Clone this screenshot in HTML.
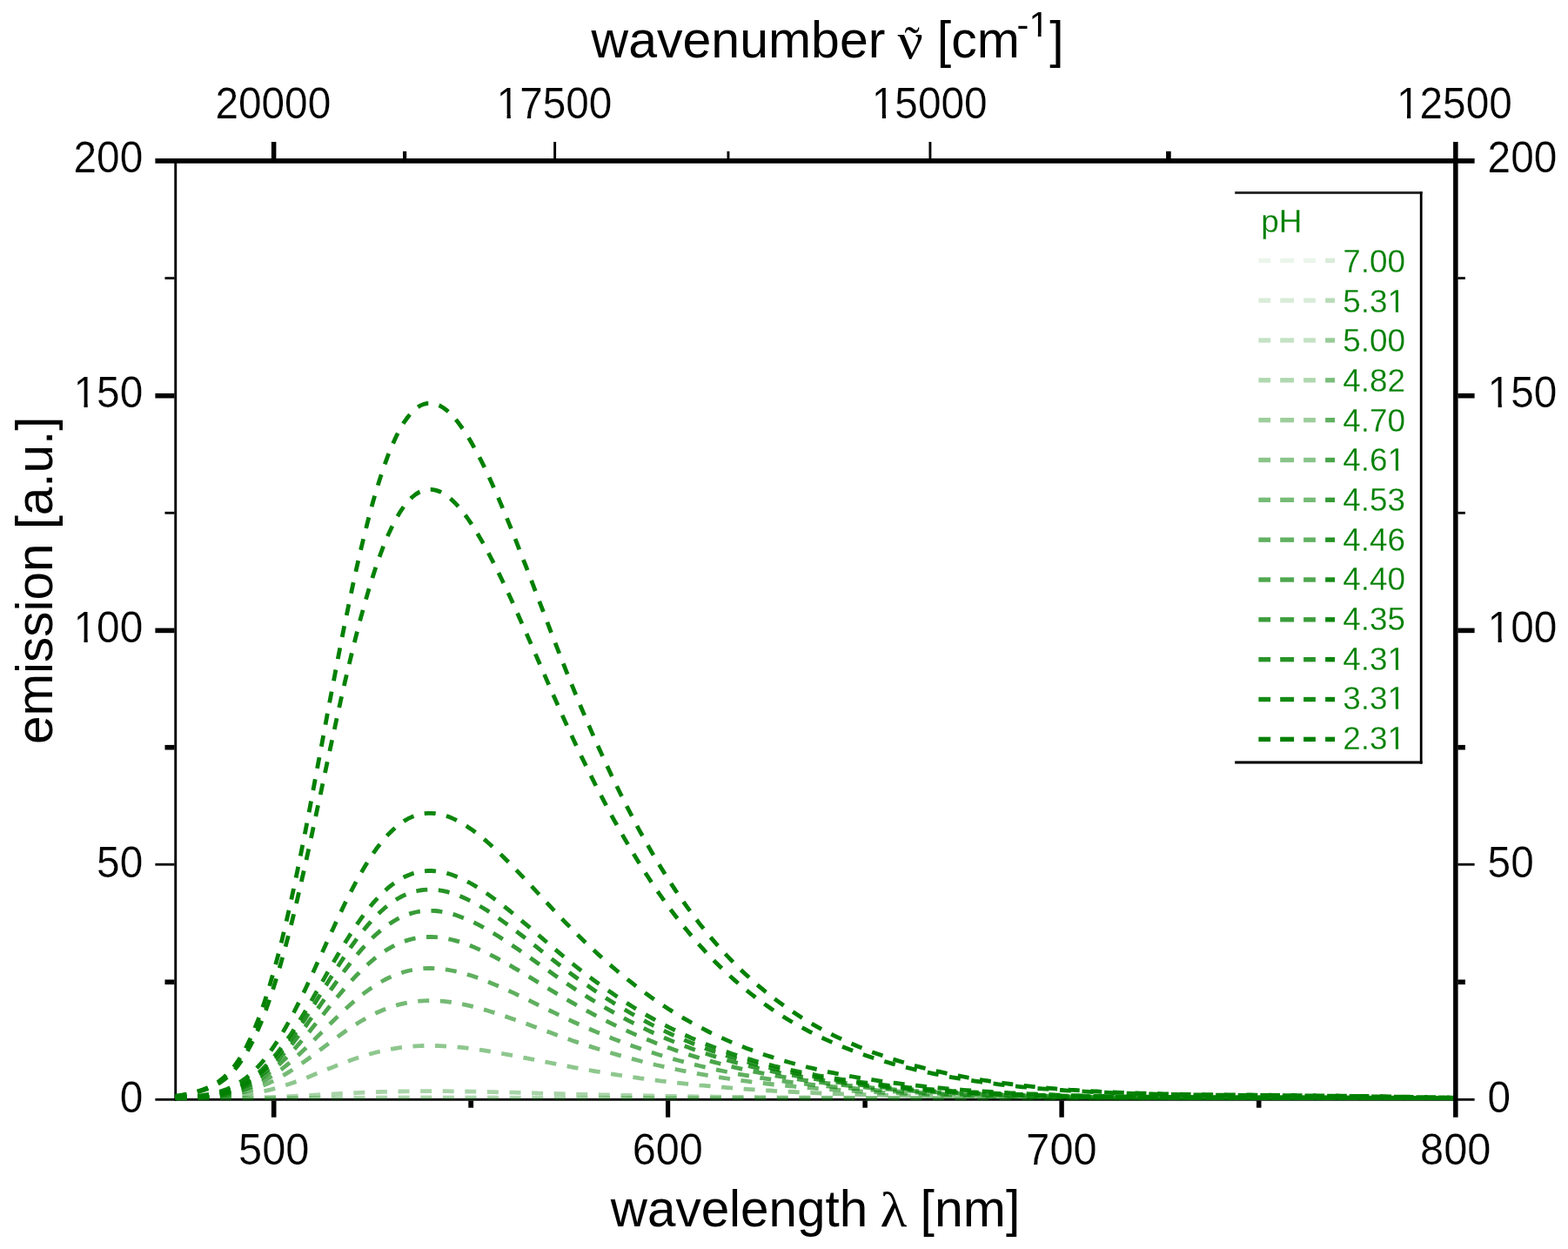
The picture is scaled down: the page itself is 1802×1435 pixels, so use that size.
<!DOCTYPE html>
<html lang="en"><head><meta charset="utf-8"><title>Emission spectra at different pH values</title>
<style>html,body{margin:0;padding:0;background:#fff}body{width:1802px;height:1435px;overflow:hidden}svg{display:block}text{font-family:"Liberation Sans",sans-serif;fill:#000}.s{font-family:"Liberation Serif",serif}.g text{fill:#008000}.c path{fill:none;stroke:#008000;stroke-linecap:butt;stroke-linejoin:round}.m{fill:#fff}</style></head><body>
<svg width="1802" height="1435" viewBox="0 0 1802 1435" style="filter:blur(0.6px)">
<rect width="1802" height="1435" fill="#fff"/>
<g id="axes">
<rect x="200.3" y="184" width="2.9" height="1080.7"/>
<rect x="178.4" y="1261.9" width="1516.2" height="2.8"/>
<rect x="189.5" y="318.2" width="11" height="2.8"/>
<rect x="1675.4" y="318.2" width="8.5" height="2.8"/>
<rect x="178.4" y="451.9" width="22.1" height="5.6"/>
<rect x="1675.4" y="451.9" width="19.2" height="5.6"/>
<rect x="189.5" y="587.9" width="11" height="2.8"/>
<rect x="1675.4" y="587.9" width="8.5" height="2.8"/>
<rect x="178.4" y="721.6" width="22.1" height="5.6"/>
<rect x="1675.4" y="721.6" width="19.2" height="5.6"/>
<rect x="189.5" y="855.9" width="11" height="5.6"/>
<rect x="1675.4" y="855.9" width="8.5" height="5.6"/>
<rect x="178.4" y="991.8" width="22.1" height="2.8"/>
<rect x="1675.4" y="991.8" width="19.2" height="2.8"/>
<rect x="189.5" y="1125.5" width="11" height="5.6"/>
<rect x="1675.4" y="1125.5" width="8.5" height="5.6"/>
<rect x="311.9" y="1264.5" width="5.6" height="19.2"/>
<rect x="538.3" y="1264.5" width="5.8" height="8.2"/>
<rect x="765" y="1264.5" width="5.2" height="19.2"/>
<rect x="991.4" y="1264.5" width="5.5" height="8.2"/>
<rect x="1217.4" y="1264.5" width="5.4" height="19.2"/>
<rect x="1444" y="1264.5" width="5.5" height="8.2"/>
<rect x="311.9" y="163" width="5.5" height="19.2"/>
<rect x="463" y="173.8" width="4.2" height="8.4"/>
<rect x="636.2" y="163" width="2.9" height="19.2"/>
<rect x="835.5" y="173.8" width="2.9" height="8.4"/>
<rect x="1067.5" y="163" width="2.9" height="19.2"/>
<rect x="1340.1" y="173.8" width="5.6" height="8.4"/>
</g>
<g class="c" id="curves" stroke-width="4.8" stroke-dasharray="13 12.6">
<path d="M201.7 1261.9l4.5 0l4.5 0l4.6 0l4.5 0l4.5 0l4.5 0l4.6 0l4.5 0l4.5 0l4.5 0l4.6 0l4.5 0l4.5 0l4.6 0l4.5 0l4.5 0l4.5 0l4.6 0l4.5 0l4.5 0l4.5 0l4.6 0l4.5 0l4.5 0l4.5 0l4.6 0l4.5 0l4.5 0l4.6 -0.1l4.5 0l4.5 0l4.5 0l4.6 0l4.5 0l4.5 0l4.5 0l4.6 0l4.5 0l4.5 0l4.6 0l4.5 0l4.5 0l4.5 0l4.6 0l4.5 0l4.5 0l4.5 0l4.6 0l4.5 0l4.5 0l4.5 0l4.6 -0.1l4.5 0l4.5 0l4.6 0l4.5 0l4.5 0l4.5 0l4.6 0l4.5 0l4.5 0l4.5 0l4.6 0l4.5 0l4.5 0l4.5 0l4.6 0l4.5 0l4.5 0l4.6 0l4.5 0l4.5 0l4.5 0l4.6 0l4.5 0l4.5 0l4.5 0l4.6 0l4.5 0l4.5 0.1l4.5 0l4.6 0l4.5 0l4.5 0l4.6 0l4.5 0l4.5 0l4.5 0l4.6 0l4.5 0l4.5 0l4.5 0l4.6 0l4.5 0l4.5 0l4.5 0l4.6 0l4.5 0l4.5 0l4.6 0l4.5 0l4.5 0l4.5 0l4.6 0l4.5 0l4.5 0l4.5 0l4.6 0l4.5 0l4.5 0l4.5 0l4.6 0l4.5 0l4.5 0l4.6 0l4.5 0l4.5 0l4.5 0l4.6 0l4.5 0l4.5 0l4.5 0l4.6 0l4.5 0l4.5 0l4.5 0l4.6 0l4.5 0l4.5 0l4.6 0l4.5 0.1l4.5 0l4.5 0l4.6 0l4.5 0l4.5 0l4.5 0l4.6 0l4.5 0l4.5 0l4.5 0l4.6 0l4.5 0l4.5 0l4.6 0l4.5 0l4.5 0l4.5 0l4.6 0l4.5 0l4.5 0l4.5 0l4.6 0l4.5 0l4.5 0l4.5 0l4.6 0l4.5 0l4.5 0l4.6 0l4.5 0l4.5 0l4.5 0l4.6 0l4.5 0l4.5 0l4.5 0l4.6 0l4.5 0l4.5 0l4.5 0l4.6 0l4.5 0l4.5 0l4.6 0l4.5 0l4.5 0l4.5 0l4.6 0l4.5 0l4.5 0l4.5 0l4.6 0l4.5 0l4.5 0l4.5 0l4.6 0l4.5 0l4.5 0l4.6 0l4.5 0l4.5 0l4.5 0l4.6 0l4.5 0l4.5 0l4.5 0l4.6 0l4.5 0l4.5 0l4.5 0l4.6 0l4.5 0l4.5 0l4.6 0l4.5 0l4.5 0l4.5 0l4.6 0l4.5 0l4.5 0l4.5 0l4.6 0l4.5 0l4.5 0l4.5 0l4.6 0l4.5 0l4.5 0l4.6 0l4.5 0l4.5 0l4.5 0l4.6 0l4.5 0l4.5 0l4.5 0l4.6 0l4.5 0l4.5 0l4.6 0l4.5 0l4.5 0l4.5 0l4.6 0l4.5 0l4.5 0l4.5 0l4.6 0l4.5 0l4.5 0l4.5 0l4.6 0l4.5 0l4.5 0l4.6 0l4.5 0l4.5 0l4.5 0l4.6 0l4.5 0l4.5 0l4.5 0l4.6 0l4.5 0l4.5 0l4.5 0l4.6 0l4.5 0l4.5 0l4.6 0l4.5 0l4.5 0l4.5 0l4.6 0l4.5 0l4.5 0l4.5 0l4.6 0l4.5 0l4.5 0l4.5 0l4.6 0l4.5 0l4.5 0l4.6 0l4.5 0l4.5 0l4.5 0l4.6 0l4.5 0l4.5 0l4.5 0l4.6 0l4.5 0l4.5 0l4.5 0l4.6 0l4.5 0l4.5 0l4.6 0l4.5 0l4.5 0l4.5 0l4.6 0l4.5 0l4.5 0l4.5 0l4.6 0l4.5 0l4.5 0l4.5 0l4.6 0l4.5 0l4.5 0l4.6 0l4.5 0l4.5 0l4.5 0l4.6 0l4.5 0l4.5 0l4.5 0l4.6 0l4.5 0l4.5 0l4.5 0l4.6 0l4.5 0l4.5 0l4.6 0l4.5 0l4.5 0l4.5 0l4.6 0" stroke-opacity="0.120"/>
<path d="M201.7 1261.9l4.5 0l4.5 0l4.6 0l4.5 0l4.5 0l4.5 0l4.6 0l4.5 0l4.5 0l4.5 0l4.6 0l4.5 0l4.5 0l4.6 0l4.5 0l4.5 -0.1l4.5 0l4.6 0l4.5 0l4.5 0l4.5 0l4.6 0l4.5 0l4.5 -0.1l4.5 0l4.6 0l4.5 0l4.5 0l4.6 -0.1l4.5 0l4.5 0l4.5 -0.1l4.6 0l4.5 0l4.5 0l4.5 -0.1l4.6 0l4.5 0l4.5 -0.1l4.6 0l4.5 0l4.5 0l4.5 -0.1l4.6 0l4.5 0l4.5 0l4.5 -0.1l4.6 0l4.5 0l4.5 0l4.5 -0.1l4.6 0l4.5 0l4.5 0l4.6 0l4.5 0l4.5 0l4.5 0l4.6 -0.1l4.5 0l4.5 0l4.5 0l4.6 0l4.5 0l4.5 0l4.5 0l4.6 0l4.5 0l4.5 0l4.6 0l4.5 0l4.5 0.1l4.5 0l4.6 0l4.5 0l4.5 0l4.5 0l4.6 0l4.5 0l4.5 0l4.5 0l4.6 0.1l4.5 0l4.5 0l4.6 0l4.5 0l4.5 0l4.5 0l4.6 0.1l4.5 0l4.5 0l4.5 0l4.6 0l4.5 0l4.5 0l4.5 0.1l4.6 0l4.5 0l4.5 0l4.6 0l4.5 0l4.5 0l4.5 0l4.6 0.1l4.5 0l4.5 0l4.5 0l4.6 0l4.5 0l4.5 0l4.5 0l4.6 0.1l4.5 0l4.5 0l4.6 0l4.5 0l4.5 0l4.5 0l4.6 0l4.5 0l4.5 0.1l4.5 0l4.6 0l4.5 0l4.5 0l4.5 0l4.6 0l4.5 0l4.5 0l4.6 0l4.5 0l4.5 0l4.5 0.1l4.6 0l4.5 0l4.5 0l4.5 0l4.6 0l4.5 0l4.5 0l4.5 0l4.6 0l4.5 0l4.5 0l4.6 0l4.5 0l4.5 0l4.5 0l4.6 0l4.5 0l4.5 0.1l4.5 0l4.6 0l4.5 0l4.5 0l4.5 0l4.6 0l4.5 0l4.5 0l4.6 0l4.5 0l4.5 0l4.5 0l4.6 0l4.5 0l4.5 0l4.5 0l4.6 0l4.5 0l4.5 0l4.5 0l4.6 0l4.5 0l4.5 0l4.6 0l4.5 0l4.5 0l4.5 0l4.6 0l4.5 0l4.5 0l4.5 0l4.6 0l4.5 0l4.5 0l4.5 0l4.6 0l4.5 0.1l4.5 0l4.6 0l4.5 0l4.5 0l4.5 0l4.6 0l4.5 0l4.5 0l4.5 0l4.6 0l4.5 0l4.5 0l4.5 0l4.6 0l4.5 0l4.5 0l4.6 0l4.5 0l4.5 0l4.5 0l4.6 0l4.5 0l4.5 0l4.5 0l4.6 0l4.5 0l4.5 0l4.5 0l4.6 0l4.5 0l4.5 0l4.6 0l4.5 0l4.5 0l4.5 0l4.6 0l4.5 0l4.5 0l4.5 0l4.6 0l4.5 0l4.5 0l4.6 0l4.5 0l4.5 0l4.5 0l4.6 0l4.5 0l4.5 0l4.5 0l4.6 0l4.5 0l4.5 0l4.5 0l4.6 0l4.5 0l4.5 0l4.6 0l4.5 0l4.5 0l4.5 0l4.6 0l4.5 0l4.5 0l4.5 0l4.6 0l4.5 0l4.5 0l4.5 0l4.6 0l4.5 0l4.5 0l4.6 0l4.5 0l4.5 0l4.5 0l4.6 0l4.5 0l4.5 0l4.5 0l4.6 0l4.5 0l4.5 0l4.5 0l4.6 0l4.5 0l4.5 0l4.6 0l4.5 0l4.5 0l4.5 0l4.6 0l4.5 0l4.5 0l4.5 0l4.6 0l4.5 0l4.5 0l4.5 0l4.6 0l4.5 0l4.5 0l4.6 0l4.5 0l4.5 0l4.5 0l4.6 0l4.5 0l4.5 0l4.5 0l4.6 0l4.5 0l4.5 0l4.5 0l4.6 0l4.5 0l4.5 0l4.6 0l4.5 0l4.5 0l4.5 0l4.6 0l4.5 0l4.5 0l4.5 0l4.6 0l4.5 0l4.5 0l4.5 0l4.6 0l4.5 0l4.5 0l4.6 0l4.5 0l4.5 0l4.5 0l4.6 0" stroke-opacity="0.235"/>
<path d="M201.7 1261.9l4.5 0l4.5 0l4.6 0l4.5 -0.1l4.5 0l4.5 0l4.6 0l4.5 0l4.5 0l4.5 -0.1l4.6 0l4.5 0l4.5 -0.1l4.6 0l4.5 -0.1l4.5 0l4.5 -0.1l4.6 -0.1l4.5 -0.1l4.5 -0.1l4.5 -0.1l4.6 -0.2l4.5 -0.1l4.5 -0.1l4.5 -0.2l4.6 -0.2l4.5 -0.2l4.5 -0.2l4.6 -0.2l4.5 -0.2l4.5 -0.2l4.5 -0.2l4.6 -0.3l4.5 -0.2l4.5 -0.3l4.5 -0.2l4.6 -0.3l4.5 -0.2l4.5 -0.3l4.6 -0.2l4.5 -0.3l4.5 -0.2l4.5 -0.2l4.6 -0.3l4.5 -0.2l4.5 -0.2l4.5 -0.2l4.6 -0.2l4.5 -0.2l4.5 -0.2l4.5 -0.1l4.6 -0.2l4.5 -0.1l4.5 -0.1l4.6 -0.1l4.5 -0.1l4.5 -0.1l4.5 -0.1l4.6 -0.1l4.5 0l4.5 -0.1l4.5 0l4.6 0l4.5 0l4.5 0l4.5 0l4.6 0l4.5 0l4.5 0l4.6 0.1l4.5 0l4.5 0.1l4.5 0.1l4.6 0l4.5 0.1l4.5 0.1l4.5 0.1l4.6 0.1l4.5 0.1l4.5 0.1l4.5 0.1l4.6 0.1l4.5 0.1l4.5 0.1l4.6 0.1l4.5 0.1l4.5 0.2l4.5 0.1l4.6 0.1l4.5 0.1l4.5 0.1l4.5 0.2l4.6 0.1l4.5 0.1l4.5 0.1l4.5 0.2l4.6 0.1l4.5 0.1l4.5 0.1l4.6 0.1l4.5 0.1l4.5 0.2l4.5 0.1l4.6 0.1l4.5 0.1l4.5 0.1l4.5 0.1l4.6 0.1l4.5 0.1l4.5 0.1l4.5 0.1l4.6 0.1l4.5 0.1l4.5 0.1l4.6 0.1l4.5 0.1l4.5 0.1l4.5 0l4.6 0.1l4.5 0.1l4.5 0.1l4.5 0.1l4.6 0l4.5 0.1l4.5 0.1l4.5 0.1l4.6 0l4.5 0.1l4.5 0.1l4.6 0l4.5 0.1l4.5 0.1l4.5 0l4.6 0.1l4.5 0l4.5 0.1l4.5 0.1l4.6 0l4.5 0.1l4.5 0l4.5 0.1l4.6 0l4.5 0.1l4.5 0l4.6 0l4.5 0.1l4.5 0l4.5 0.1l4.6 0l4.5 0.1l4.5 0l4.5 0l4.6 0.1l4.5 0l4.5 0l4.5 0.1l4.6 0l4.5 0l4.5 0.1l4.6 0l4.5 0l4.5 0l4.5 0.1l4.6 0l4.5 0l4.5 0l4.5 0.1l4.6 0l4.5 0l4.5 0l4.5 0l4.6 0.1l4.5 0l4.5 0l4.6 0l4.5 0l4.5 0.1l4.5 0l4.6 0l4.5 0l4.5 0l4.5 0l4.6 0.1l4.5 0l4.5 0l4.5 0l4.6 0l4.5 0l4.5 0l4.6 0l4.5 0.1l4.5 0l4.5 0l4.6 0l4.5 0l4.5 0l4.5 0l4.6 0l4.5 0l4.5 0.1l4.5 0l4.6 0l4.5 0l4.5 0l4.6 0l4.5 0l4.5 0l4.5 0l4.6 0l4.5 0l4.5 0l4.5 0l4.6 0l4.5 0.1l4.5 0l4.5 0l4.6 0l4.5 0l4.5 0l4.6 0l4.5 0l4.5 0l4.5 0l4.6 0l4.5 0l4.5 0l4.5 0l4.6 0l4.5 0l4.5 0l4.6 0l4.5 0l4.5 0l4.5 0l4.6 0l4.5 0l4.5 0l4.5 0l4.6 0l4.5 0l4.5 0l4.5 0l4.6 0l4.5 0l4.5 0l4.6 0.1l4.5 0l4.5 0l4.5 0l4.6 0l4.5 0l4.5 0l4.5 0l4.6 0l4.5 0l4.5 0l4.5 0l4.6 0l4.5 0l4.5 0l4.6 0l4.5 0l4.5 0l4.5 0l4.6 0l4.5 0l4.5 0l4.5 0l4.6 0l4.5 0l4.5 0l4.5 0l4.6 0l4.5 0l4.5 0l4.6 0l4.5 0l4.5 0l4.5 0l4.6 0l4.5 0l4.5 0l4.5 0l4.6 0l4.5 0l4.5 0l4.5 0l4.6 0l4.5 0l4.5 0l4.6 0l4.5 0l4.5 0l4.5 0l4.6 0l4.5 0l4.5 0l4.5 0l4.6 0l4.5 0l4.5 0l4.5 0l4.6 0l4.5 0l4.5 0l4.6 0l4.5 0l4.5 0l4.5 0l4.6 0l4.5 0l4.5 0l4.5 0l4.6 0l4.5 0l4.5 0l4.5 0l4.6 0l4.5 0l4.5 0l4.6 0l4.5 0l4.5 0l4.5 0l4.6 0" stroke-opacity="0.343"/>
<path d="M201.7 1261.8l4.5 0l4.5 -0.1l4.6 -0.1l4.5 -0.1l4.5 0l4.5 -0.1l4.6 -0.2l4.5 -0.1l4.5 -0.2l4.5 -0.1l4.6 -0.3l4.5 -0.2l4.5 -0.3l4.6 -0.4l4.5 -0.4l4.5 -0.5l4.5 -0.6l4.6 -0.6l4.5 -0.7l4.5 -0.8l4.5 -0.8l4.6 -1l4.5 -1l4.5 -1.1l4.5 -1.2l4.6 -1.3l4.5 -1.4l4.5 -1.4l4.6 -1.5l4.5 -1.6l4.5 -1.6l4.5 -1.7l4.6 -1.7l4.5 -1.8l4.5 -1.8l4.5 -1.9l4.6 -1.8l4.5 -1.9l4.5 -1.8l4.6 -1.8l4.5 -1.8l4.5 -1.8l4.5 -1.7l4.6 -1.7l4.5 -1.6l4.5 -1.6l4.5 -1.5l4.6 -1.4l4.5 -1.3l4.5 -1.3l4.5 -1.2l4.6 -1.1l4.5 -1l4.5 -1l4.6 -0.8l4.5 -0.8l4.5 -0.6l4.5 -0.6l4.6 -0.5l4.5 -0.4l4.5 -0.3l4.5 -0.3l4.6 -0.1l4.5 -0.1l4.5 0l4.5 0.1l4.6 0.1l4.5 0.2l4.5 0.3l4.6 0.3l4.5 0.4l4.5 0.4l4.5 0.5l4.6 0.5l4.5 0.6l4.5 0.6l4.5 0.6l4.6 0.7l4.5 0.7l4.5 0.7l4.5 0.8l4.6 0.8l4.5 0.8l4.5 0.8l4.6 0.9l4.5 0.8l4.5 0.9l4.5 0.9l4.6 0.9l4.5 0.9l4.5 0.8l4.5 0.9l4.6 0.9l4.5 0.9l4.5 0.9l4.5 0.9l4.6 0.9l4.5 0.9l4.5 0.9l4.6 0.8l4.5 0.9l4.5 0.8l4.5 0.8l4.6 0.9l4.5 0.7l4.5 0.8l4.5 0.8l4.6 0.8l4.5 0.7l4.5 0.7l4.5 0.8l4.6 0.7l4.5 0.7l4.5 0.7l4.6 0.6l4.5 0.7l4.5 0.6l4.5 0.7l4.6 0.6l4.5 0.6l4.5 0.6l4.5 0.6l4.6 0.6l4.5 0.5l4.5 0.6l4.5 0.5l4.6 0.5l4.5 0.5l4.5 0.5l4.6 0.5l4.5 0.5l4.5 0.4l4.5 0.5l4.6 0.4l4.5 0.4l4.5 0.4l4.5 0.4l4.6 0.4l4.5 0.4l4.5 0.4l4.5 0.3l4.6 0.4l4.5 0.3l4.5 0.4l4.6 0.3l4.5 0.3l4.5 0.3l4.5 0.3l4.6 0.3l4.5 0.3l4.5 0.2l4.5 0.3l4.6 0.3l4.5 0.2l4.5 0.3l4.5 0.2l4.6 0.2l4.5 0.3l4.5 0.2l4.6 0.2l4.5 0.2l4.5 0.2l4.5 0.2l4.6 0.2l4.5 0.2l4.5 0.1l4.5 0.2l4.6 0.2l4.5 0.1l4.5 0.2l4.5 0.1l4.6 0.2l4.5 0.1l4.5 0.2l4.6 0.1l4.5 0.2l4.5 0.1l4.5 0.1l4.6 0.1l4.5 0.2l4.5 0.1l4.5 0.1l4.6 0.1l4.5 0.1l4.5 0.1l4.5 0.1l4.6 0.1l4.5 0.1l4.5 0.1l4.6 0.1l4.5 0.1l4.5 0l4.5 0.1l4.6 0.1l4.5 0.1l4.5 0l4.5 0.1l4.6 0.1l4.5 0.1l4.5 0l4.5 0.1l4.6 0l4.5 0.1l4.5 0.1l4.6 0l4.5 0.1l4.5 0l4.5 0.1l4.6 0l4.5 0.1l4.5 0l4.5 0.1l4.6 0l4.5 0l4.5 0.1l4.5 0l4.6 0.1l4.5 0l4.5 0l4.6 0.1l4.5 0l4.5 0l4.5 0.1l4.6 0l4.5 0l4.5 0l4.5 0.1l4.6 0l4.5 0l4.5 0l4.6 0.1l4.5 0l4.5 0l4.5 0l4.6 0l4.5 0l4.5 0.1l4.5 0l4.6 0l4.5 0l4.5 0l4.5 0l4.6 0l4.5 0.1l4.5 0l4.6 0l4.5 0l4.5 0l4.5 0l4.6 0l4.5 0l4.5 0l4.5 0l4.6 0l4.5 0.1l4.5 0l4.5 0l4.6 0l4.5 0l4.5 0l4.6 0l4.5 0l4.5 0l4.5 0l4.6 0l4.5 0l4.5 0l4.5 0l4.6 0l4.5 0l4.5 0l4.5 0l4.6 0l4.5 0l4.5 0l4.6 0l4.5 0l4.5 0l4.5 0l4.6 0l4.5 0l4.5 0l4.5 0l4.6 0l4.5 0l4.5 0l4.5 0l4.6 0l4.5 0l4.5 0l4.6 0l4.5 0l4.5 0l4.5 0l4.6 0l4.5 0l4.5 0l4.5 0l4.6 0l4.5 0l4.5 0l4.5 0.1l4.6 0l4.5 0l4.5 0l4.6 0l4.5 0l4.5 0l4.5 0l4.6 0l4.5 0l4.5 0l4.5 0l4.6 0l4.5 0l4.5 0l4.5 0l4.6 0l4.5 0l4.5 0l4.6 0l4.5 0l4.5 0l4.5 0l4.6 0" stroke-opacity="0.445"/>
<path d="M201.7 1261.8l4.5 -0.2l4.5 -0.1l4.6 -0.1l4.5 -0.1l4.5 -0.2l4.5 -0.2l4.6 -0.2l4.5 -0.3l4.5 -0.3l4.5 -0.3l4.6 -0.4l4.5 -0.5l4.5 -0.6l4.6 -0.7l4.5 -0.7l4.5 -0.9l4.5 -1.1l4.6 -1.1l4.5 -1.4l4.5 -1.4l4.5 -1.6l4.6 -1.8l4.5 -1.9l4.5 -2l4.5 -2.2l4.6 -2.4l4.5 -2.5l4.5 -2.7l4.6 -2.8l4.5 -2.9l4.5 -3l4.5 -3.2l4.6 -3.2l4.5 -3.3l4.5 -3.4l4.5 -3.4l4.6 -3.4l4.5 -3.4l4.5 -3.4l4.6 -3.4l4.5 -3.3l4.5 -3.3l4.5 -3.2l4.6 -3.1l4.5 -3l4.5 -2.9l4.5 -2.8l4.6 -2.6l4.5 -2.5l4.5 -2.4l4.5 -2.2l4.6 -2.1l4.5 -1.9l4.5 -1.7l4.6 -1.6l4.5 -1.4l4.5 -1.2l4.5 -1.1l4.6 -0.9l4.5 -0.7l4.5 -0.6l4.5 -0.5l4.6 -0.2l4.5 -0.2l4.5 0l4.5 0.1l4.6 0.3l4.5 0.3l4.5 0.5l4.6 0.6l4.5 0.7l4.5 0.8l4.5 0.9l4.6 1l4.5 1l4.5 1.2l4.5 1.1l4.6 1.3l4.5 1.3l4.5 1.4l4.5 1.4l4.6 1.5l4.5 1.5l4.5 1.5l4.6 1.6l4.5 1.6l4.5 1.6l4.5 1.6l4.6 1.6l4.5 1.7l4.5 1.7l4.5 1.6l4.6 1.7l4.5 1.7l4.5 1.6l4.5 1.7l4.6 1.6l4.5 1.7l4.5 1.6l4.6 1.6l4.5 1.6l4.5 1.5l4.5 1.5l4.6 1.5l4.5 1.5l4.5 1.5l4.5 1.4l4.6 1.4l4.5 1.4l4.5 1.3l4.5 1.4l4.6 1.3l4.5 1.3l4.5 1.3l4.6 1.2l4.5 1.2l4.5 1.2l4.5 1.2l4.6 1.2l4.5 1.1l4.5 1.1l4.5 1.1l4.6 1l4.5 1.1l4.5 1l4.5 1l4.6 0.9l4.5 1l4.5 0.9l4.6 0.9l4.5 0.8l4.5 0.9l4.5 0.8l4.6 0.8l4.5 0.8l4.5 0.8l4.5 0.7l4.6 0.7l4.5 0.7l4.5 0.7l4.5 0.7l4.6 0.7l4.5 0.6l4.5 0.6l4.6 0.6l4.5 0.6l4.5 0.6l4.5 0.5l4.6 0.5l4.5 0.6l4.5 0.5l4.5 0.5l4.6 0.4l4.5 0.5l4.5 0.5l4.5 0.4l4.6 0.4l4.5 0.5l4.5 0.4l4.6 0.3l4.5 0.4l4.5 0.4l4.5 0.4l4.6 0.3l4.5 0.3l4.5 0.4l4.5 0.3l4.6 0.3l4.5 0.3l4.5 0.3l4.5 0.3l4.6 0.3l4.5 0.2l4.5 0.3l4.6 0.3l4.5 0.2l4.5 0.2l4.5 0.3l4.6 0.2l4.5 0.2l4.5 0.2l4.5 0.2l4.6 0.2l4.5 0.2l4.5 0.2l4.5 0.2l4.6 0.2l4.5 0.2l4.5 0.1l4.6 0.2l4.5 0.2l4.5 0.1l4.5 0.2l4.6 0.1l4.5 0.2l4.5 0.1l4.5 0.1l4.6 0.2l4.5 0.1l4.5 0.1l4.5 0.1l4.6 0.1l4.5 0.1l4.5 0.2l4.6 0.1l4.5 0.1l4.5 0.1l4.5 0.1l4.6 0l4.5 0.1l4.5 0.1l4.5 0.1l4.6 0.1l4.5 0.1l4.5 0l4.5 0.1l4.6 0.1l4.5 0l4.5 0.1l4.6 0.1l4.5 0l4.5 0.1l4.5 0l4.6 0.1l4.5 0l4.5 0.1l4.5 0l4.6 0.1l4.5 0l4.5 0.1l4.6 0l4.5 0l4.5 0.1l4.5 0l4.6 0l4.5 0.1l4.5 0l4.5 0l4.6 0.1l4.5 0l4.5 0l4.5 0l4.6 0l4.5 0.1l4.5 0l4.6 0l4.5 0l4.5 0l4.5 0.1l4.6 0l4.5 0l4.5 0l4.5 0l4.6 0l4.5 0l4.5 0.1l4.5 0l4.6 0l4.5 0l4.5 0l4.6 0l4.5 0l4.5 0l4.5 0l4.6 0l4.5 0l4.5 0l4.5 0l4.6 0l4.5 0.1l4.5 0l4.5 0l4.6 0l4.5 0l4.5 0l4.6 0l4.5 0l4.5 0l4.5 0l4.6 0l4.5 0l4.5 0l4.5 0l4.6 0l4.5 0l4.5 0l4.5 0l4.6 0l4.5 0l4.5 0l4.6 0l4.5 0l4.5 0l4.5 0l4.6 0l4.5 0l4.5 0l4.5 0l4.6 0l4.5 0l4.5 0l4.5 0l4.6 0l4.5 0l4.5 0l4.6 0l4.5 0.1l4.5 0l4.5 0l4.6 0l4.5 0l4.5 0l4.5 0l4.6 0l4.5 0l4.5 0l4.5 0l4.6 0l4.5 0l4.5 0.1l4.6 0l4.5 0l4.5 0l4.5 0l4.6 0" stroke-opacity="0.540"/>
<path d="M201.7 1261.7l4.5 -0.1l4.5 -0.2l4.6 -0.2l4.5 -0.2l4.5 -0.2l4.5 -0.2l4.6 -0.3l4.5 -0.4l4.5 -0.4l4.5 -0.4l4.6 -0.6l4.5 -0.6l4.5 -0.8l4.6 -0.9l4.5 -1l4.5 -1.2l4.5 -1.4l4.6 -1.5l4.5 -1.8l4.5 -1.9l4.5 -2.1l4.6 -2.4l4.5 -2.5l4.5 -2.8l4.5 -2.9l4.6 -3.2l4.5 -3.3l4.5 -3.5l4.6 -3.8l4.5 -3.9l4.5 -4l4.5 -4.2l4.6 -4.3l4.5 -4.4l4.5 -4.5l4.5 -4.5l4.6 -4.5l4.5 -4.6l4.5 -4.5l4.6 -4.5l4.5 -4.4l4.5 -4.4l4.5 -4.3l4.6 -4.1l4.5 -4l4.5 -3.9l4.5 -3.7l4.6 -3.5l4.5 -3.3l4.5 -3.2l4.5 -2.9l4.6 -2.8l4.5 -2.5l4.5 -2.3l4.6 -2.1l4.5 -1.8l4.5 -1.7l4.5 -1.4l4.6 -1.2l4.5 -1l4.5 -0.8l4.5 -0.6l4.6 -0.4l4.5 -0.2l4.5 0l4.5 0.2l4.6 0.3l4.5 0.5l4.5 0.7l4.6 0.8l4.5 0.9l4.5 1l4.5 1.2l4.6 1.3l4.5 1.4l4.5 1.5l4.5 1.6l4.6 1.7l4.5 1.7l4.5 1.9l4.5 1.9l4.6 1.9l4.5 2l4.5 2l4.6 2.1l4.5 2.1l4.5 2.2l4.5 2.1l4.6 2.2l4.5 2.2l4.5 2.2l4.5 2.3l4.6 2.2l4.5 2.2l4.5 2.2l4.5 2.2l4.6 2.2l4.5 2.2l4.5 2.2l4.6 2.1l4.5 2.1l4.5 2l4.5 2.1l4.6 2l4.5 1.9l4.5 2l4.5 1.9l4.6 1.8l4.5 1.9l4.5 1.8l4.5 1.8l4.6 1.7l4.5 1.8l4.5 1.7l4.6 1.6l4.5 1.7l4.5 1.6l4.5 1.5l4.6 1.6l4.5 1.5l4.5 1.4l4.5 1.5l4.6 1.4l4.5 1.3l4.5 1.4l4.5 1.3l4.6 1.3l4.5 1.2l4.5 1.2l4.6 1.2l4.5 1.2l4.5 1.1l4.5 1.1l4.6 1.1l4.5 1l4.5 1l4.5 1l4.6 1l4.5 0.9l4.5 1l4.5 0.9l4.6 0.8l4.5 0.9l4.5 0.8l4.6 0.8l4.5 0.8l4.5 0.7l4.5 0.8l4.6 0.7l4.5 0.7l4.5 0.6l4.5 0.7l4.6 0.6l4.5 0.7l4.5 0.6l4.5 0.5l4.6 0.6l4.5 0.6l4.5 0.5l4.6 0.5l4.5 0.5l4.5 0.5l4.5 0.5l4.6 0.5l4.5 0.4l4.5 0.5l4.5 0.4l4.6 0.4l4.5 0.4l4.5 0.4l4.5 0.4l4.6 0.3l4.5 0.4l4.5 0.4l4.6 0.3l4.5 0.3l4.5 0.3l4.5 0.4l4.6 0.3l4.5 0.2l4.5 0.3l4.5 0.3l4.6 0.3l4.5 0.2l4.5 0.3l4.5 0.2l4.6 0.3l4.5 0.2l4.5 0.2l4.6 0.3l4.5 0.2l4.5 0.2l4.5 0.2l4.6 0.2l4.5 0.2l4.5 0.1l4.5 0.2l4.6 0.2l4.5 0.2l4.5 0.1l4.5 0.2l4.6 0.1l4.5 0.2l4.5 0.1l4.6 0.2l4.5 0.1l4.5 0.1l4.5 0.1l4.6 0.2l4.5 0.1l4.5 0.1l4.5 0.1l4.6 0.1l4.5 0.1l4.5 0.1l4.5 0.1l4.6 0.1l4.5 0.1l4.5 0.1l4.6 0.1l4.5 0l4.5 0.1l4.5 0.1l4.6 0l4.5 0.1l4.5 0.1l4.5 0l4.6 0.1l4.5 0.1l4.5 0l4.6 0.1l4.5 0l4.5 0.1l4.5 0l4.6 0l4.5 0.1l4.5 0l4.5 0.1l4.6 0l4.5 0l4.5 0.1l4.5 0l4.6 0l4.5 0.1l4.5 0l4.6 0l4.5 0l4.5 0.1l4.5 0l4.6 0l4.5 0l4.5 0l4.5 0.1l4.6 0l4.5 0l4.5 0l4.5 0l4.6 0l4.5 0l4.5 0.1l4.6 0l4.5 0l4.5 0l4.5 0l4.6 0l4.5 0l4.5 0l4.5 0l4.6 0l4.5 0l4.5 0l4.5 0.1l4.6 0l4.5 0l4.5 0l4.6 0l4.5 0l4.5 0l4.5 0l4.6 0l4.5 0l4.5 0l4.5 0l4.6 0l4.5 0l4.5 0l4.5 0l4.6 0l4.5 0l4.5 0l4.6 0l4.5 0l4.5 0l4.5 0l4.6 0l4.5 0l4.5 0l4.5 0l4.6 0l4.5 0l4.5 0l4.5 0l4.6 0l4.5 0.1l4.5 0l4.6 0l4.5 0l4.5 0l4.5 0l4.6 0l4.5 0l4.5 0l4.5 0l4.6 0l4.5 0l4.5 0.1l4.5 0l4.6 0l4.5 0l4.5 0l4.6 0l4.5 0l4.5 0.1l4.5 0l4.6 0" stroke-opacity="0.629"/>
<path d="M201.7 1261.7l4.5 -0.2l4.5 -0.2l4.6 -0.2l4.5 -0.3l4.5 -0.2l4.5 -0.4l4.6 -0.3l4.5 -0.4l4.5 -0.5l4.5 -0.6l4.6 -0.7l4.5 -0.8l4.5 -0.9l4.6 -1.1l4.5 -1.3l4.5 -1.5l4.5 -1.7l4.6 -2l4.5 -2.1l4.5 -2.4l4.5 -2.7l4.6 -2.9l4.5 -3.1l4.5 -3.4l4.5 -3.7l4.6 -3.9l4.5 -4.2l4.5 -4.3l4.6 -4.7l4.5 -4.8l4.5 -5l4.5 -5.2l4.6 -5.3l4.5 -5.5l4.5 -5.6l4.5 -5.6l4.6 -5.6l4.5 -5.7l4.5 -5.6l4.6 -5.6l4.5 -5.5l4.5 -5.4l4.5 -5.3l4.6 -5.1l4.5 -5l4.5 -4.8l4.5 -4.6l4.6 -4.4l4.5 -4.1l4.5 -3.9l4.5 -3.7l4.6 -3.4l4.5 -3.1l4.5 -2.9l4.6 -2.6l4.5 -2.3l4.5 -2l4.5 -1.8l4.6 -1.5l4.5 -1.2l4.5 -1l4.5 -0.7l4.6 -0.5l4.5 -0.2l4.5 -0.1l4.5 0.2l4.6 0.5l4.5 0.6l4.5 0.8l4.6 1l4.5 1.1l4.5 1.3l4.5 1.5l4.6 1.6l4.5 1.7l4.5 1.9l4.5 2l4.6 2.1l4.5 2.1l4.5 2.3l4.5 2.3l4.6 2.5l4.5 2.4l4.5 2.6l4.6 2.5l4.5 2.7l4.5 2.6l4.5 2.7l4.6 2.7l4.5 2.8l4.5 2.7l4.5 2.8l4.6 2.7l4.5 2.8l4.5 2.8l4.5 2.7l4.6 2.7l4.5 2.7l4.5 2.7l4.6 2.6l4.5 2.6l4.5 2.6l4.5 2.5l4.6 2.5l4.5 2.4l4.5 2.4l4.5 2.4l4.6 2.3l4.5 2.3l4.5 2.3l4.5 2.2l4.6 2.2l4.5 2.1l4.5 2.1l4.6 2.1l4.5 2l4.5 2l4.5 1.9l4.6 1.9l4.5 1.9l4.5 1.8l4.5 1.8l4.6 1.7l4.5 1.7l4.5 1.7l4.5 1.6l4.6 1.6l4.5 1.6l4.5 1.5l4.6 1.5l4.5 1.4l4.5 1.4l4.5 1.4l4.6 1.3l4.5 1.3l4.5 1.3l4.5 1.2l4.6 1.2l4.5 1.2l4.5 1.1l4.5 1.1l4.6 1.1l4.5 1l4.5 1.1l4.6 0.9l4.5 1l4.5 1l4.5 0.9l4.6 0.9l4.5 0.8l4.5 0.9l4.5 0.8l4.6 0.8l4.5 0.7l4.5 0.8l4.5 0.7l4.6 0.7l4.5 0.7l4.5 0.7l4.6 0.6l4.5 0.7l4.5 0.6l4.5 0.6l4.6 0.5l4.5 0.6l4.5 0.5l4.5 0.6l4.6 0.5l4.5 0.5l4.5 0.5l4.5 0.4l4.6 0.5l4.5 0.5l4.5 0.4l4.6 0.4l4.5 0.4l4.5 0.4l4.5 0.4l4.6 0.4l4.5 0.3l4.5 0.4l4.5 0.3l4.6 0.4l4.5 0.3l4.5 0.3l4.5 0.3l4.6 0.3l4.5 0.3l4.5 0.3l4.6 0.2l4.5 0.3l4.5 0.3l4.5 0.2l4.6 0.3l4.5 0.2l4.5 0.2l4.5 0.2l4.6 0.2l4.5 0.3l4.5 0.2l4.5 0.2l4.6 0.1l4.5 0.2l4.5 0.2l4.6 0.2l4.5 0.1l4.5 0.2l4.5 0.2l4.6 0.1l4.5 0.2l4.5 0.1l4.5 0.1l4.6 0.2l4.5 0.1l4.5 0.1l4.5 0.1l4.6 0.1l4.5 0.2l4.5 0.1l4.6 0.1l4.5 0.1l4.5 0l4.5 0.1l4.6 0.1l4.5 0.1l4.5 0.1l4.5 0.1l4.6 0l4.5 0.1l4.5 0.1l4.6 0l4.5 0.1l4.5 0.1l4.5 0l4.6 0.1l4.5 0l4.5 0.1l4.5 0l4.6 0.1l4.5 0l4.5 0l4.5 0.1l4.6 0l4.5 0.1l4.5 0l4.6 0l4.5 0.1l4.5 0l4.5 0l4.6 0l4.5 0.1l4.5 0l4.5 0l4.6 0l4.5 0.1l4.5 0l4.5 0l4.6 0l4.5 0l4.5 0l4.6 0l4.5 0.1l4.5 0l4.5 0l4.6 0l4.5 0l4.5 0l4.5 0l4.6 0l4.5 0l4.5 0l4.5 0l4.6 0l4.5 0.1l4.5 0l4.6 0l4.5 0l4.5 0l4.5 0l4.6 0l4.5 0l4.5 0l4.5 0l4.6 0l4.5 0l4.5 0l4.5 0l4.6 0l4.5 0l4.5 0l4.6 0l4.5 0l4.5 0l4.5 0l4.6 0l4.5 0l4.5 0l4.5 0l4.6 0l4.5 0l4.5 0.1l4.5 0l4.6 0l4.5 0l4.5 0l4.6 0l4.5 0l4.5 0l4.5 0l4.6 0l4.5 0l4.5 0l4.5 0.1l4.6 0l4.5 0l4.5 0l4.5 0l4.6 0l4.5 0l4.5 0.1l4.6 0l4.5 0l4.5 0l4.5 0l4.6 0.1" stroke-opacity="0.710"/>
<path d="M201.7 1261.6l4.5 -0.2l4.5 -0.2l4.6 -0.3l4.5 -0.2l4.5 -0.4l4.5 -0.3l4.6 -0.4l4.5 -0.5l4.5 -0.6l4.5 -0.7l4.6 -0.8l4.5 -0.9l4.5 -1.1l4.6 -1.3l4.5 -1.5l4.5 -1.7l4.5 -2l4.6 -2.2l4.5 -2.6l4.5 -2.8l4.5 -3l4.6 -3.4l4.5 -3.7l4.5 -3.9l4.5 -4.3l4.6 -4.5l4.5 -4.9l4.5 -5.1l4.6 -5.3l4.5 -5.6l4.5 -5.9l4.5 -6l4.6 -6.2l4.5 -6.4l4.5 -6.4l4.5 -6.6l4.6 -6.5l4.5 -6.6l4.5 -6.6l4.6 -6.5l4.5 -6.4l4.5 -6.2l4.5 -6.2l4.6 -5.9l4.5 -5.8l4.5 -5.6l4.5 -5.3l4.6 -5.1l4.5 -4.9l4.5 -4.5l4.5 -4.3l4.6 -3.9l4.5 -3.7l4.5 -3.3l4.6 -3l4.5 -2.7l4.5 -2.4l4.5 -2l4.6 -1.7l4.5 -1.5l4.5 -1.1l4.5 -0.9l4.6 -0.5l4.5 -0.3l4.5 0l4.5 0.2l4.6 0.5l4.5 0.7l4.5 0.9l4.6 1.2l4.5 1.3l4.5 1.6l4.5 1.7l4.6 1.8l4.5 2.1l4.5 2.1l4.5 2.3l4.6 2.4l4.5 2.6l4.5 2.6l4.5 2.7l4.6 2.8l4.5 2.9l4.5 2.9l4.6 3l4.5 3.1l4.5 3.1l4.5 3.1l4.6 3.2l4.5 3.2l4.5 3.2l4.5 3.2l4.6 3.2l4.5 3.2l4.5 3.2l4.5 3.2l4.6 3.2l4.5 3.1l4.5 3.1l4.6 3.1l4.5 3l4.5 3l4.5 2.9l4.6 2.9l4.5 2.8l4.5 2.8l4.5 2.7l4.6 2.7l4.5 2.7l4.5 2.6l4.5 2.6l4.6 2.5l4.5 2.5l4.5 2.5l4.6 2.4l4.5 2.3l4.5 2.3l4.5 2.3l4.6 2.2l4.5 2.2l4.5 2.1l4.5 2.1l4.6 2l4.5 2l4.5 1.9l4.5 1.9l4.6 1.9l4.5 1.8l4.5 1.7l4.6 1.7l4.5 1.7l4.5 1.6l4.5 1.6l4.6 1.6l4.5 1.5l4.5 1.5l4.5 1.4l4.6 1.4l4.5 1.3l4.5 1.4l4.5 1.2l4.6 1.3l4.5 1.2l4.5 1.2l4.6 1.2l4.5 1.1l4.5 1.1l4.5 1l4.6 1.1l4.5 1l4.5 0.9l4.5 1l4.6 0.9l4.5 0.9l4.5 0.9l4.5 0.8l4.6 0.8l4.5 0.8l4.5 0.8l4.6 0.8l4.5 0.7l4.5 0.7l4.5 0.7l4.6 0.7l4.5 0.6l4.5 0.7l4.5 0.6l4.6 0.6l4.5 0.6l4.5 0.5l4.5 0.6l4.6 0.5l4.5 0.5l4.5 0.5l4.6 0.5l4.5 0.5l4.5 0.5l4.5 0.4l4.6 0.4l4.5 0.5l4.5 0.4l4.5 0.4l4.6 0.4l4.5 0.3l4.5 0.4l4.5 0.4l4.6 0.3l4.5 0.3l4.5 0.4l4.6 0.3l4.5 0.3l4.5 0.3l4.5 0.3l4.6 0.3l4.5 0.2l4.5 0.3l4.5 0.2l4.6 0.3l4.5 0.2l4.5 0.3l4.5 0.2l4.6 0.2l4.5 0.2l4.5 0.2l4.6 0.2l4.5 0.2l4.5 0.2l4.5 0.2l4.6 0.2l4.5 0.1l4.5 0.2l4.5 0.2l4.6 0.1l4.5 0.2l4.5 0.1l4.5 0.1l4.6 0.2l4.5 0.1l4.5 0.1l4.6 0.1l4.5 0.2l4.5 0.1l4.5 0.1l4.6 0.1l4.5 0.1l4.5 0.1l4.5 0l4.6 0.1l4.5 0.1l4.5 0.1l4.6 0.1l4.5 0l4.5 0.1l4.5 0.1l4.6 0l4.5 0.1l4.5 0.1l4.5 0l4.6 0.1l4.5 0l4.5 0.1l4.5 0l4.6 0.1l4.5 0l4.5 0l4.6 0.1l4.5 0l4.5 0l4.5 0.1l4.6 0l4.5 0l4.5 0.1l4.5 0l4.6 0l4.5 0l4.5 0.1l4.5 0l4.6 0l4.5 0l4.5 0l4.6 0l4.5 0.1l4.5 0l4.5 0l4.6 0l4.5 0l4.5 0l4.5 0l4.6 0l4.5 0l4.5 0l4.5 0.1l4.6 0l4.5 0l4.5 0l4.6 0l4.5 0l4.5 0l4.5 0l4.6 0l4.5 0l4.5 0l4.5 0l4.6 0l4.5 0l4.5 0l4.5 0l4.6 0l4.5 0l4.5 0l4.6 0l4.5 0l4.5 0l4.5 0l4.6 0l4.5 0.1l4.5 0l4.5 0l4.6 0l4.5 0l4.5 0l4.5 0l4.6 0l4.5 0l4.5 0l4.6 0l4.5 0l4.5 0l4.5 0l4.6 0.1l4.5 0l4.5 0l4.5 0l4.6 0l4.5 0l4.5 0l4.5 0.1l4.6 0l4.5 0l4.5 0l4.6 0l4.5 0.1l4.5 0l4.5 0l4.6 0" stroke-opacity="0.783"/>
<path d="M201.7 1261.6l4.5 -0.2l4.5 -0.3l4.6 -0.3l4.5 -0.3l4.5 -0.3l4.5 -0.4l4.6 -0.5l4.5 -0.5l4.5 -0.7l4.5 -0.7l4.6 -0.9l4.5 -1l4.5 -1.3l4.6 -1.4l4.5 -1.7l4.5 -1.9l4.5 -2.2l4.6 -2.5l4.5 -2.8l4.5 -3.1l4.5 -3.4l4.6 -3.8l4.5 -4.1l4.5 -4.4l4.5 -4.7l4.6 -5l4.5 -5.4l4.5 -5.7l4.6 -6l4.5 -6.2l4.5 -6.5l4.5 -6.7l4.6 -6.9l4.5 -7.1l4.5 -7.2l4.5 -7.3l4.6 -7.3l4.5 -7.3l4.5 -7.3l4.6 -7.2l4.5 -7.1l4.5 -7l4.5 -6.8l4.6 -6.7l4.5 -6.4l4.5 -6.2l4.5 -5.9l4.6 -5.7l4.5 -5.4l4.5 -5l4.5 -4.8l4.6 -4.4l4.5 -4l4.5 -3.7l4.6 -3.4l4.5 -3l4.5 -2.6l4.5 -2.3l4.6 -1.9l4.5 -1.6l4.5 -1.3l4.5 -0.9l4.6 -0.6l4.5 -0.3l4.5 -0.1l4.5 0.3l4.6 0.5l4.5 0.8l4.5 1.1l4.6 1.2l4.5 1.5l4.5 1.7l4.5 1.9l4.6 2.1l4.5 2.3l4.5 2.4l4.5 2.5l4.6 2.7l4.5 2.8l4.5 3l4.5 3l4.6 3.1l4.5 3.2l4.5 3.3l4.6 3.3l4.5 3.4l4.5 3.5l4.5 3.4l4.6 3.6l4.5 3.5l4.5 3.5l4.5 3.6l4.6 3.6l4.5 3.6l4.5 3.5l4.5 3.6l4.6 3.5l4.5 3.5l4.5 3.4l4.6 3.5l4.5 3.3l4.5 3.3l4.5 3.3l4.6 3.2l4.5 3.1l4.5 3.1l4.5 3.1l4.6 3l4.5 3l4.5 2.9l4.5 2.9l4.6 2.8l4.5 2.7l4.5 2.8l4.6 2.6l4.5 2.7l4.5 2.5l4.5 2.5l4.6 2.5l4.5 2.4l4.5 2.4l4.5 2.3l4.6 2.2l4.5 2.2l4.5 2.2l4.5 2.1l4.6 2l4.5 2.1l4.5 1.9l4.6 1.9l4.5 1.9l4.5 1.8l4.5 1.8l4.6 1.7l4.5 1.7l4.5 1.6l4.5 1.6l4.6 1.5l4.5 1.6l4.5 1.4l4.5 1.5l4.6 1.3l4.5 1.4l4.5 1.3l4.6 1.3l4.5 1.3l4.5 1.2l4.5 1.1l4.6 1.2l4.5 1.1l4.5 1.1l4.5 1l4.6 1.1l4.5 1l4.5 0.9l4.5 1l4.6 0.9l4.5 0.9l4.5 0.8l4.6 0.9l4.5 0.8l4.5 0.8l4.5 0.8l4.6 0.7l4.5 0.7l4.5 0.7l4.5 0.7l4.6 0.7l4.5 0.6l4.5 0.7l4.5 0.6l4.6 0.6l4.5 0.5l4.5 0.6l4.6 0.6l4.5 0.5l4.5 0.5l4.5 0.5l4.6 0.5l4.5 0.4l4.5 0.5l4.5 0.4l4.6 0.5l4.5 0.4l4.5 0.4l4.5 0.4l4.6 0.4l4.5 0.4l4.5 0.3l4.6 0.4l4.5 0.3l4.5 0.3l4.5 0.4l4.6 0.3l4.5 0.3l4.5 0.3l4.5 0.3l4.6 0.2l4.5 0.3l4.5 0.3l4.5 0.2l4.6 0.3l4.5 0.2l4.5 0.2l4.6 0.2l4.5 0.3l4.5 0.2l4.5 0.2l4.6 0.2l4.5 0.2l4.5 0.1l4.5 0.2l4.6 0.2l4.5 0.1l4.5 0.2l4.5 0.2l4.6 0.1l4.5 0.1l4.5 0.2l4.6 0.1l4.5 0.1l4.5 0.2l4.5 0.1l4.6 0.1l4.5 0.1l4.5 0.1l4.5 0.1l4.6 0.1l4.5 0.1l4.5 0.1l4.6 0.1l4.5 0l4.5 0.1l4.5 0.1l4.6 0.1l4.5 0l4.5 0.1l4.5 0l4.6 0.1l4.5 0.1l4.5 0l4.5 0.1l4.6 0l4.5 0.1l4.5 0l4.6 0l4.5 0.1l4.5 0l4.5 0.1l4.6 0l4.5 0l4.5 0.1l4.5 0l4.6 0l4.5 0l4.5 0.1l4.5 0l4.6 0l4.5 0l4.5 0l4.6 0.1l4.5 0l4.5 0l4.5 0l4.6 0l4.5 0l4.5 0l4.5 0l4.6 0.1l4.5 0l4.5 0l4.5 0l4.6 0l4.5 0l4.5 0l4.6 0l4.5 0l4.5 0l4.5 0l4.6 0l4.5 0l4.5 0l4.5 0l4.6 0l4.5 0l4.5 0l4.5 0.1l4.6 0l4.5 0l4.5 0l4.6 0l4.5 0l4.5 0l4.5 0l4.6 0l4.5 0l4.5 0l4.5 0l4.6 0l4.5 0l4.5 0l4.5 0l4.6 0l4.5 0l4.5 0.1l4.6 0l4.5 0l4.5 0l4.5 0l4.6 0l4.5 0l4.5 0l4.5 0.1l4.6 0l4.5 0l4.5 0l4.5 0l4.6 0l4.5 0.1l4.5 0l4.6 0l4.5 0l4.5 0.1l4.5 0l4.6 0" stroke-opacity="0.848"/>
<path d="M201.7 1261.6l4.5 -0.3l4.5 -0.3l4.6 -0.3l4.5 -0.3l4.5 -0.4l4.5 -0.4l4.6 -0.5l4.5 -0.6l4.5 -0.7l4.5 -0.8l4.6 -1l4.5 -1.1l4.5 -1.4l4.6 -1.5l4.5 -1.8l4.5 -2.1l4.5 -2.4l4.6 -2.8l4.5 -3l4.5 -3.4l4.5 -3.7l4.6 -4.1l4.5 -4.5l4.5 -4.8l4.5 -5.1l4.6 -5.5l4.5 -5.9l4.5 -6.2l4.6 -6.5l4.5 -6.8l4.5 -7.1l4.5 -7.3l4.6 -7.5l4.5 -7.7l4.5 -7.8l4.5 -8l4.6 -7.9l4.5 -8l4.5 -7.9l4.6 -7.9l4.5 -7.8l4.5 -7.6l4.5 -7.4l4.6 -7.3l4.5 -7l4.5 -6.7l4.5 -6.5l4.6 -6.2l4.5 -5.8l4.5 -5.6l4.5 -5.1l4.6 -4.8l4.5 -4.4l4.5 -4.1l4.6 -3.6l4.5 -3.3l4.5 -2.8l4.5 -2.5l4.6 -2.1l4.5 -1.8l4.5 -1.3l4.5 -1l4.6 -0.7l4.5 -0.4l4.5 0l4.5 0.3l4.6 0.6l4.5 0.8l4.5 1.2l4.6 1.3l4.5 1.7l4.5 1.8l4.5 2.1l4.6 2.3l4.5 2.4l4.5 2.6l4.5 2.8l4.6 3l4.5 3l4.5 3.2l4.5 3.3l4.6 3.4l4.5 3.5l4.5 3.6l4.6 3.6l4.5 3.7l4.5 3.8l4.5 3.8l4.6 3.8l4.5 3.8l4.5 3.9l4.5 3.9l4.6 3.9l4.5 3.9l4.5 3.9l4.5 3.8l4.6 3.9l4.5 3.8l4.5 3.8l4.6 3.7l4.5 3.6l4.5 3.6l4.5 3.6l4.6 3.5l4.5 3.4l4.5 3.4l4.5 3.3l4.6 3.3l4.5 3.2l4.5 3.2l4.5 3.1l4.6 3.1l4.5 3l4.5 3l4.6 2.9l4.5 2.9l4.5 2.8l4.5 2.7l4.6 2.7l4.5 2.6l4.5 2.6l4.5 2.5l4.6 2.5l4.5 2.4l4.5 2.3l4.5 2.3l4.6 2.2l4.5 2.2l4.5 2.2l4.6 2l4.5 2.1l4.5 1.9l4.5 2l4.6 1.8l4.5 1.9l4.5 1.8l4.5 1.7l4.6 1.7l4.5 1.6l4.5 1.6l4.5 1.6l4.6 1.5l4.5 1.5l4.5 1.4l4.6 1.4l4.5 1.4l4.5 1.3l4.5 1.3l4.6 1.2l4.5 1.3l4.5 1.1l4.5 1.2l4.6 1.1l4.5 1.1l4.5 1l4.5 1.1l4.6 1l4.5 0.9l4.5 1l4.6 0.9l4.5 0.9l4.5 0.8l4.5 0.9l4.6 0.8l4.5 0.8l4.5 0.8l4.5 0.7l4.6 0.7l4.5 0.7l4.5 0.7l4.5 0.7l4.6 0.6l4.5 0.7l4.5 0.6l4.6 0.6l4.5 0.5l4.5 0.6l4.5 0.5l4.6 0.6l4.5 0.5l4.5 0.5l4.5 0.5l4.6 0.4l4.5 0.5l4.5 0.4l4.5 0.5l4.6 0.4l4.5 0.4l4.5 0.4l4.6 0.4l4.5 0.3l4.5 0.4l4.5 0.4l4.6 0.3l4.5 0.3l4.5 0.3l4.5 0.4l4.6 0.3l4.5 0.2l4.5 0.3l4.5 0.3l4.6 0.3l4.5 0.2l4.5 0.3l4.6 0.2l4.5 0.3l4.5 0.2l4.5 0.2l4.6 0.2l4.5 0.2l4.5 0.2l4.5 0.2l4.6 0.2l4.5 0.2l4.5 0.1l4.5 0.2l4.6 0.2l4.5 0.1l4.5 0.2l4.6 0.1l4.5 0.2l4.5 0.1l4.5 0.1l4.6 0.1l4.5 0.2l4.5 0.1l4.5 0.1l4.6 0.1l4.5 0.1l4.5 0.1l4.6 0.1l4.5 0l4.5 0.1l4.5 0.1l4.6 0.1l4.5 0.1l4.5 0l4.5 0.1l4.6 0.1l4.5 0l4.5 0.1l4.5 0l4.6 0.1l4.5 0l4.5 0.1l4.6 0l4.5 0.1l4.5 0l4.5 0.1l4.6 0l4.5 0l4.5 0.1l4.5 0l4.6 0l4.5 0l4.5 0.1l4.5 0l4.6 0l4.5 0l4.5 0.1l4.6 0l4.5 0l4.5 0l4.5 0l4.6 0l4.5 0.1l4.5 0l4.5 0l4.6 0l4.5 0l4.5 0l4.5 0l4.6 0l4.5 0l4.5 0l4.6 0l4.5 0.1l4.5 0l4.5 0l4.6 0l4.5 0l4.5 0l4.5 0l4.6 0l4.5 0l4.5 0l4.5 0l4.6 0l4.5 0l4.5 0l4.6 0l4.5 0l4.5 0l4.5 0l4.6 0l4.5 0l4.5 0l4.5 0l4.6 0.1l4.5 0l4.5 0l4.5 0l4.6 0l4.5 0l4.5 0l4.6 0l4.5 0l4.5 0l4.5 0.1l4.6 0l4.5 0l4.5 0l4.5 0l4.6 0l4.5 0.1l4.5 0l4.5 0l4.6 0l4.5 0l4.5 0.1l4.6 0l4.5 0l4.5 0l4.5 0.1l4.6 0" stroke-opacity="0.904"/>
<path d="M201.7 1261.5l4.5 -0.3l4.5 -0.4l4.6 -0.4l4.5 -0.4l4.5 -0.5l4.5 -0.5l4.6 -0.7l4.5 -0.7l4.5 -0.9l4.5 -1l4.6 -1.2l4.5 -1.4l4.5 -1.7l4.6 -1.9l4.5 -2.3l4.5 -2.7l4.5 -3l4.6 -3.4l4.5 -3.8l4.5 -4.2l4.5 -4.7l4.6 -5.1l4.5 -5.6l4.5 -6l4.5 -6.5l4.6 -6.9l4.5 -7.3l4.5 -7.8l4.6 -8.2l4.5 -8.5l4.5 -8.8l4.5 -9.2l4.6 -9.5l4.5 -9.6l4.5 -9.8l4.5 -10l4.6 -9.9l4.5 -10l4.5 -10l4.6 -9.8l4.5 -9.8l4.5 -9.5l4.5 -9.3l4.6 -9.1l4.5 -8.8l4.5 -8.5l4.5 -8.1l4.6 -7.7l4.5 -7.4l4.5 -6.9l4.5 -6.5l4.6 -6l4.5 -5.5l4.5 -5.1l4.6 -4.5l4.5 -4.1l4.5 -3.6l4.5 -3.1l4.6 -2.7l4.5 -2.1l4.5 -1.8l4.5 -1.2l4.6 -0.9l4.5 -0.4l4.5 0l4.5 0.3l4.6 0.7l4.5 1.1l4.5 1.4l4.6 1.8l4.5 2l4.5 2.3l4.5 2.6l4.6 2.9l4.5 3l4.5 3.3l4.5 3.5l4.6 3.7l4.5 3.8l4.5 4l4.5 4.2l4.6 4.2l4.5 4.4l4.5 4.5l4.6 4.6l4.5 4.6l4.5 4.7l4.5 4.7l4.6 4.8l4.5 4.9l4.5 4.8l4.5 4.9l4.6 4.9l4.5 4.9l4.5 4.8l4.5 4.9l4.6 4.8l4.5 4.8l4.5 4.7l4.6 4.6l4.5 4.6l4.5 4.6l4.5 4.4l4.6 4.4l4.5 4.3l4.5 4.2l4.5 4.2l4.6 4.1l4.5 4.1l4.5 3.9l4.5 4l4.6 3.8l4.5 3.8l4.5 3.7l4.6 3.7l4.5 3.5l4.5 3.6l4.5 3.4l4.6 3.4l4.5 3.2l4.5 3.3l4.5 3.1l4.6 3.1l4.5 3l4.5 3l4.5 2.8l4.6 2.8l4.5 2.8l4.5 2.6l4.6 2.6l4.5 2.6l4.5 2.5l4.5 2.4l4.6 2.3l4.5 2.3l4.5 2.3l4.5 2.1l4.6 2.2l4.5 2l4.5 2l4.5 2l4.6 1.9l4.5 1.8l4.5 1.8l4.6 1.8l4.5 1.7l4.5 1.7l4.5 1.6l4.6 1.5l4.5 1.6l4.5 1.4l4.5 1.5l4.6 1.4l4.5 1.3l4.5 1.4l4.5 1.3l4.6 1.2l4.5 1.2l4.5 1.2l4.6 1.1l4.5 1.2l4.5 1l4.5 1.1l4.6 1l4.5 1l4.5 1l4.5 0.9l4.6 0.9l4.5 0.9l4.5 0.9l4.5 0.8l4.6 0.8l4.5 0.8l4.5 0.8l4.6 0.7l4.5 0.7l4.5 0.7l4.5 0.7l4.6 0.7l4.5 0.6l4.5 0.6l4.5 0.6l4.6 0.6l4.5 0.6l4.5 0.6l4.5 0.5l4.6 0.5l4.5 0.5l4.5 0.5l4.6 0.5l4.5 0.5l4.5 0.4l4.5 0.5l4.6 0.4l4.5 0.4l4.5 0.4l4.5 0.4l4.6 0.4l4.5 0.3l4.5 0.4l4.5 0.3l4.6 0.4l4.5 0.3l4.5 0.3l4.6 0.3l4.5 0.3l4.5 0.3l4.5 0.3l4.6 0.2l4.5 0.3l4.5 0.2l4.5 0.3l4.6 0.2l4.5 0.2l4.5 0.2l4.5 0.3l4.6 0.2l4.5 0.1l4.5 0.2l4.6 0.2l4.5 0.2l4.5 0.1l4.5 0.2l4.6 0.2l4.5 0.1l4.5 0.1l4.5 0.2l4.6 0.1l4.5 0.1l4.5 0.2l4.6 0.1l4.5 0.1l4.5 0.1l4.5 0.1l4.6 0.1l4.5 0.1l4.5 0.1l4.5 0l4.6 0.1l4.5 0.1l4.5 0.1l4.5 0l4.6 0.1l4.5 0.1l4.5 0l4.6 0.1l4.5 0l4.5 0.1l4.5 0l4.6 0.1l4.5 0l4.5 0.1l4.5 0l4.6 0l4.5 0.1l4.5 0l4.5 0l4.6 0.1l4.5 0l4.5 0l4.6 0l4.5 0.1l4.5 0l4.5 0l4.6 0l4.5 0l4.5 0.1l4.5 0l4.6 0l4.5 0l4.5 0l4.5 0l4.6 0l4.5 0l4.5 0l4.6 0.1l4.5 0l4.5 0l4.5 0l4.6 0l4.5 0l4.5 0l4.5 0l4.6 0l4.5 0l4.5 0l4.5 0l4.6 0l4.5 0l4.5 0l4.6 0l4.5 0l4.5 0l4.5 0.1l4.6 0l4.5 0l4.5 0l4.5 0l4.6 0l4.5 0l4.5 0l4.5 0l4.6 0l4.5 0l4.5 0.1l4.6 0l4.5 0l4.5 0l4.5 0l4.6 0l4.5 0.1l4.5 0l4.5 0l4.6 0l4.5 0l4.5 0.1l4.5 0l4.6 0l4.5 0l4.5 0.1l4.6 0l4.5 0l4.5 0.1l4.5 0l4.6 0.1" stroke-opacity="0.950"/>
<path d="M201.7 1259.5l4.5 -0.6l4.5 -0.8l4.6 -0.8l4.5 -0.9l4.5 -1l4.5 -1.2l4.6 -1.4l4.5 -1.5l4.5 -1.9l4.5 -2.2l4.6 -2.5l4.5 -3.1l4.5 -3.5l4.6 -4.2l4.5 -4.9l4.5 -5.6l4.5 -6.4l4.6 -7.2l4.5 -8.2l4.5 -9l4.5 -10l4.6 -10.9l4.5 -11.9l4.5 -12.8l4.5 -13.8l4.6 -14.7l4.5 -15.6l4.5 -16.6l4.6 -17.3l4.5 -18.2l4.5 -18.9l4.5 -19.5l4.6 -20.1l4.5 -20.6l4.5 -20.9l4.5 -21.2l4.6 -21.2l4.5 -21.3l4.5 -21.2l4.6 -21l4.5 -20.8l4.5 -20.3l4.5 -19.9l4.6 -19.3l4.5 -18.7l4.5 -18.1l4.5 -17.3l4.6 -16.4l4.5 -15.7l4.5 -14.7l4.5 -13.8l4.6 -12.9l4.5 -11.8l4.5 -10.7l4.6 -9.8l4.5 -8.6l4.5 -7.7l4.5 -6.6l4.6 -5.6l4.5 -4.7l4.5 -3.6l4.5 -2.8l4.6 -1.8l4.5 -0.9l4.5 -0.1l4.5 0.8l4.6 1.5l4.5 2.3l4.5 3.1l4.6 3.7l4.5 4.3l4.5 4.9l4.5 5.6l4.6 6l4.5 6.6l4.5 7l4.5 7.4l4.6 7.9l4.5 8.2l4.5 8.5l4.5 8.8l4.6 9.1l4.5 9.3l4.5 9.5l4.6 9.7l4.5 9.9l4.5 10l4.5 10.2l4.6 10.2l4.5 10.3l4.5 10.3l4.5 10.4l4.6 10.4l4.5 10.4l4.5 10.4l4.5 10.3l4.6 10.3l4.5 10.1l4.5 10.1l4.6 9.9l4.5 9.8l4.5 9.6l4.5 9.5l4.6 9.3l4.5 9.2l4.5 9l4.5 8.9l4.6 8.8l4.5 8.6l4.5 8.5l4.5 8.4l4.6 8.2l4.5 8l4.5 7.9l4.6 7.8l4.5 7.6l4.5 7.5l4.5 7.3l4.6 7.2l4.5 7l4.5 6.9l4.5 6.7l4.6 6.6l4.5 6.4l4.5 6.2l4.5 6.2l4.6 5.9l4.5 5.9l4.5 5.7l4.6 5.5l4.5 5.4l4.5 5.3l4.5 5.2l4.6 5l4.5 4.9l4.5 4.7l4.5 4.7l4.6 4.5l4.5 4.4l4.5 4.2l4.5 4.2l4.6 4.1l4.5 3.9l4.5 3.8l4.6 3.8l4.5 3.6l4.5 3.5l4.5 3.5l4.6 3.3l4.5 3.3l4.5 3.1l4.5 3.1l4.6 3l4.5 2.9l4.5 2.8l4.5 2.7l4.6 2.7l4.5 2.6l4.5 2.5l4.6 2.4l4.5 2.4l4.5 2.3l4.5 2.3l4.6 2.1l4.5 2.1l4.5 2.1l4.5 2l4.6 1.9l4.5 1.9l4.5 1.8l4.5 1.8l4.6 1.8l4.5 1.6l4.5 1.7l4.6 1.5l4.5 1.6l4.5 1.5l4.5 1.4l4.6 1.4l4.5 1.4l4.5 1.3l4.5 1.3l4.6 1.3l4.5 1.2l4.5 1.2l4.5 1.1l4.6 1.1l4.5 1.1l4.5 1.1l4.6 1l4.5 1l4.5 1l4.5 0.9l4.6 0.9l4.5 0.9l4.5 0.8l4.5 0.9l4.6 0.8l4.5 0.8l4.5 0.7l4.5 0.8l4.6 0.7l4.5 0.7l4.5 0.6l4.6 0.7l4.5 0.6l4.5 0.6l4.5 0.6l4.6 0.6l4.5 0.5l4.5 0.5l4.5 0.6l4.6 0.4l4.5 0.5l4.5 0.5l4.5 0.4l4.6 0.4l4.5 0.5l4.5 0.4l4.6 0.3l4.5 0.4l4.5 0.3l4.5 0.4l4.6 0.3l4.5 0.3l4.5 0.3l4.5 0.3l4.6 0.3l4.5 0.3l4.5 0.2l4.6 0.2l4.5 0.3l4.5 0.2l4.5 0.2l4.6 0.2l4.5 0.2l4.5 0.2l4.5 0.2l4.6 0.2l4.5 0.1l4.5 0.2l4.5 0.1l4.6 0.2l4.5 0.1l4.5 0.1l4.6 0.1l4.5 0.2l4.5 0.1l4.5 0.1l4.6 0.1l4.5 0.1l4.5 0.1l4.5 0l4.6 0.1l4.5 0.1l4.5 0.1l4.5 0l4.6 0.1l4.5 0l4.5 0.1l4.6 0l4.5 0.1l4.5 0l4.5 0.1l4.6 0l4.5 0l4.5 0.1l4.5 0l4.6 0l4.5 0.1l4.5 0l4.5 0l4.6 0l4.5 0.1l4.5 0l4.6 0l4.5 0.1l4.5 0l4.5 0.1l4.6 0l4.5 0.1l4.5 0l4.5 0l4.6 0.1l4.5 0l4.5 0.1l4.5 0l4.6 0.1l4.5 0l4.5 0.1l4.6 0l4.5 0l4.5 0.1l4.5 0l4.6 0.1l4.5 0l4.5 0.1l4.5 0l4.6 0.1l4.5 0l4.5 0.1l4.5 0l4.6 0.1l4.5 0.1l4.5 0l4.6 0.1l4.5 0.1l4.5 0l4.5 0.1l4.6 0.1l4.5 0l4.5 0.1l4.5 0.1l4.6 0.1l4.5 0.1l4.5 0l4.5 0.1l4.6 0l4.5 0.1l4.5 0l4.6 0.1l4.5 0.1l4.5 0.1l4.5 0l4.6 0.1" stroke-opacity="0.983"/>
<path d="M201.7 1259.4l4.5 -0.8l4.5 -0.8l4.6 -0.9l4.5 -1.1l4.5 -1.2l4.5 -1.3l4.6 -1.5l4.5 -1.8l4.5 -2.1l4.5 -2.5l4.6 -2.9l4.5 -3.5l4.5 -4.1l4.6 -4.8l4.5 -5.5l4.5 -6.4l4.5 -7.3l4.6 -8.3l4.5 -9.3l4.5 -10.4l4.5 -11.3l4.6 -12.5l4.5 -13.5l4.5 -14.7l4.5 -15.7l4.6 -16.8l4.5 -17.9l4.5 -18.9l4.6 -19.8l4.5 -20.8l4.5 -21.5l4.5 -22.3l4.6 -23l4.5 -23.5l4.5 -23.9l4.5 -24.1l4.6 -24.3l4.5 -24.3l4.5 -24.3l4.6 -23.9l4.5 -23.7l4.5 -23.2l4.5 -22.7l4.6 -22.1l4.5 -21.4l4.5 -20.6l4.5 -19.7l4.6 -18.9l4.5 -17.8l4.5 -16.9l4.5 -15.7l4.6 -14.6l4.5 -13.5l4.5 -12.3l4.6 -11.1l4.5 -10l4.5 -8.7l4.5 -7.6l4.6 -6.4l4.5 -5.3l4.5 -4.2l4.5 -3.1l4.6 -2l4.5 -1.1l4.5 -0.1l4.5 0.9l4.6 1.8l4.5 2.6l4.5 3.4l4.6 4.3l4.5 4.9l4.5 5.7l4.5 6.3l4.6 6.9l4.5 7.5l4.5 8l4.5 8.5l4.6 8.9l4.5 9.4l4.5 9.7l4.5 10.1l4.6 10.3l4.5 10.7l4.5 10.9l4.6 11.1l4.5 11.3l4.5 11.4l4.5 11.6l4.6 11.6l4.5 11.8l4.5 11.8l4.5 11.9l4.6 11.8l4.5 11.9l4.5 11.9l4.5 11.8l4.6 11.7l4.5 11.6l4.5 11.5l4.6 11.3l4.5 11.2l4.5 10.9l4.5 10.9l4.6 10.6l4.5 10.5l4.5 10.3l4.5 10.2l4.6 10l4.5 9.8l4.5 9.7l4.5 9.6l4.6 9.3l4.5 9.2l4.5 9.1l4.6 8.9l4.5 8.7l4.5 8.5l4.5 8.4l4.6 8.1l4.5 8l4.5 7.9l4.5 7.7l4.6 7.5l4.5 7.3l4.5 7.1l4.5 7l4.6 6.9l4.5 6.6l4.5 6.5l4.6 6.4l4.5 6.1l4.5 6.1l4.5 5.9l4.6 5.7l4.5 5.6l4.5 5.4l4.5 5.3l4.6 5.1l4.5 5.1l4.5 4.9l4.5 4.7l4.6 4.6l4.5 4.5l4.5 4.4l4.6 4.3l4.5 4.1l4.5 4.1l4.5 3.9l4.6 3.8l4.5 3.7l4.5 3.6l4.5 3.5l4.6 3.4l4.5 3.3l4.5 3.3l4.5 3.1l4.6 3l4.5 3l4.5 2.9l4.6 2.7l4.5 2.8l4.5 2.6l4.5 2.5l4.6 2.5l4.5 2.4l4.5 2.4l4.5 2.3l4.6 2.2l4.5 2.1l4.5 2.1l4.5 2l4.6 2l4.5 1.9l4.5 1.9l4.6 1.8l4.5 1.8l4.5 1.7l4.5 1.6l4.6 1.6l4.5 1.6l4.5 1.5l4.5 1.5l4.6 1.4l4.5 1.4l4.5 1.4l4.5 1.3l4.6 1.3l4.5 1.2l4.5 1.2l4.6 1.2l4.5 1.1l4.5 1.1l4.5 1.1l4.6 1l4.5 1l4.5 1l4.5 0.9l4.6 1l4.5 0.8l4.5 0.9l4.5 0.9l4.6 0.8l4.5 0.8l4.5 0.7l4.6 0.8l4.5 0.7l4.5 0.7l4.5 0.6l4.6 0.7l4.5 0.6l4.5 0.6l4.5 0.6l4.6 0.6l4.5 0.5l4.5 0.5l4.5 0.5l4.6 0.5l4.5 0.5l4.5 0.4l4.6 0.5l4.5 0.4l4.5 0.4l4.5 0.4l4.6 0.4l4.5 0.3l4.5 0.3l4.5 0.4l4.6 0.3l4.5 0.3l4.5 0.3l4.6 0.3l4.5 0.2l4.5 0.3l4.5 0.2l4.6 0.3l4.5 0.2l4.5 0.2l4.5 0.2l4.6 0.2l4.5 0.2l4.5 0.2l4.5 0.1l4.6 0.2l4.5 0.1l4.5 0.2l4.6 0.1l4.5 0.2l4.5 0.1l4.5 0.1l4.6 0.1l4.5 0.1l4.5 0.1l4.5 0.1l4.6 0.1l4.5 0.1l4.5 0.1l4.5 0l4.6 0.1l4.5 0.1l4.5 0l4.6 0.1l4.5 0l4.5 0.1l4.5 0l4.6 0.1l4.5 0l4.5 0.1l4.5 0l4.6 0l4.5 0.1l4.5 0l4.5 0l4.6 0l4.5 0.1l4.5 0l4.6 0l4.5 0.1l4.5 0l4.5 0.1l4.6 0l4.5 0.1l4.5 0l4.5 0.1l4.6 0l4.5 0.1l4.5 0l4.5 0.1l4.6 0l4.5 0l4.5 0.1l4.6 0l4.5 0.1l4.5 0l4.5 0.1l4.6 0l4.5 0.1l4.5 0l4.5 0.1l4.6 0l4.5 0.1l4.5 0.1l4.5 0l4.6 0.1l4.5 0l4.5 0.1l4.6 0.1l4.5 0l4.5 0.1l4.5 0.1l4.6 0.1l4.5 0l4.5 0.1l4.5 0.1l4.6 0.1l4.5 0.1l4.5 0l4.5 0.1l4.6 0.1l4.5 0.1l4.5 0l4.6 0.1l4.5 0.1l4.5 0.1l4.5 0.1l4.6 0" stroke-opacity="1.000"/>
</g>
<g id="axes2">
<rect x="178.4" y="182" width="1516.2" height="5.7"/>
<rect x="1670.1" y="163" width="5.5" height="1120.7"/>
</g>
<g id="ticklabels">
<text transform="translate(313.8 135.6) scale(0.965 1.0)" font-size="49.5" text-anchor="middle" stroke="#fff" stroke-width="0.25">20000</text>
<g transform="translate(637 135.6) scale(0.965 1.0)"><text font-size="49.5" text-anchor="middle" stroke="#fff" stroke-width="0.25">17500</text><rect class="m" x="-66.41" y="-4.3" width="10.03" height="5.1"/><rect class="m" x="-52" y="-4.3" width="9.52" height="5.1"/></g>
<g transform="translate(1068.2 135.6) scale(0.965 1.0)"><text font-size="49.5" text-anchor="middle" stroke="#fff" stroke-width="0.25">15000</text><rect class="m" x="-66.41" y="-4.3" width="10.03" height="5.1"/><rect class="m" x="-52" y="-4.3" width="9.52" height="5.1"/></g>
<g transform="translate(1671.4 135.6) scale(0.965 1.0)"><text font-size="49.5" text-anchor="middle" stroke="#fff" stroke-width="0.25">12500</text><rect class="m" x="-66.41" y="-4.3" width="10.03" height="5.1"/><rect class="m" x="-52" y="-4.3" width="9.52" height="5.1"/></g>
<text transform="translate(314.7 1337.9) scale(0.9843 1.0)" font-size="49.5" text-anchor="middle" stroke="#fff" stroke-width="0.25">500</text>
<text transform="translate(767.3 1337.9) scale(0.9843 1.0)" font-size="49.5" text-anchor="middle" stroke="#fff" stroke-width="0.25">600</text>
<text transform="translate(1220 1337.9) scale(0.9843 1.0)" font-size="49.5" text-anchor="middle" stroke="#fff" stroke-width="0.25">700</text>
<text transform="translate(1672.7 1337.9) scale(0.9843 1.0)" font-size="49.5" text-anchor="middle" stroke="#fff" stroke-width="0.25">800</text>
<text transform="translate(164.2 198.1) scale(0.965 1.0)" font-size="49.5" text-anchor="end" stroke="#fff" stroke-width="0.25">200</text>
<text transform="translate(1709.6 198.1) scale(0.965 1.0)" font-size="49.5" stroke="#fff" stroke-width="0.25">200</text>
<g transform="translate(164.2 468.3) scale(0.965 1.0)"><text font-size="49.5" text-anchor="end" stroke="#fff" stroke-width="0.25">150</text><rect class="m" x="-80.17" y="-4.3" width="10.03" height="5.1"/><rect class="m" x="-65.77" y="-4.3" width="9.52" height="5.1"/></g>
<g transform="translate(1709.6 468.3) scale(0.965 1.0)"><text font-size="49.5" stroke="#fff" stroke-width="0.25">150</text><rect class="m" x="2.42" y="-4.3" width="10.03" height="5.1"/><rect class="m" x="16.82" y="-4.3" width="9.52" height="5.1"/></g>
<g transform="translate(164.2 738) scale(0.965 1.0)"><text font-size="49.5" text-anchor="end" stroke="#fff" stroke-width="0.25">100</text><rect class="m" x="-80.17" y="-4.3" width="10.03" height="5.1"/><rect class="m" x="-65.77" y="-4.3" width="9.52" height="5.1"/></g>
<g transform="translate(1709.6 738) scale(0.965 1.0)"><text font-size="49.5" stroke="#fff" stroke-width="0.25">100</text><rect class="m" x="2.42" y="-4.3" width="10.03" height="5.1"/><rect class="m" x="16.82" y="-4.3" width="9.52" height="5.1"/></g>
<text transform="translate(164.2 1007.5) scale(0.965 1.0)" font-size="49.5" text-anchor="end" stroke="#fff" stroke-width="0.25">50</text>
<text transform="translate(1709.6 1007.5) scale(0.965 1.0)" font-size="49.5" stroke="#fff" stroke-width="0.25">50</text>
<text transform="translate(164.2 1278) scale(0.965 1.0)" font-size="49.5" text-anchor="end" stroke="#fff" stroke-width="0.25">0</text>
<text transform="translate(1709.6 1278) scale(0.965 1.0)" font-size="49.5" stroke="#fff" stroke-width="0.25">0</text>
</g>
<g id="titles">
<text transform="translate(679.6 66.2)" font-size="59">wavenumber</text>
<text transform="translate(1031.6 66.6) scale(1.1 1.0)" font-size="59" class="s">ν</text>
<text transform="translate(1039.6 67.5) scale(0.95 1.0)" font-size="55" class="s">˜</text>
<text transform="translate(1076.8 66.2)" font-size="59">[cm</text>
<g transform="translate(1168.6 42)"><text font-size="41.5">-1</text><rect class="m" x="15.85" y="-3.7" width="8.41" height="4.5"/><rect class="m" x="27.92" y="-3.7" width="7.98" height="4.5"/></g>
<text transform="translate(1206.3 66.2)" font-size="59">]</text>
<text transform="translate(701.8 1408.5) scale(0.99 1.0)" font-size="59">wavelength</text>
<text transform="translate(1011.5 1408.5) scale(1.08 0.975)" font-size="59" class="s">λ</text>
<text transform="translate(1057.6 1408.5)" font-size="59">[nm]</text>
<text transform="translate(60.4 855) rotate(-90) scale(0.99 1.0)" font-size="59">emission [a.u.]</text>
</g>
<g class="g" id="legend">
<rect x="1419.2" y="220" width="215.4" height="2.9" fill="#262626"/>
<rect x="1631.8" y="220" width="2.8" height="657.5" fill="#000"/>
<rect x="1419.2" y="874.4" width="215.4" height="3.1" fill="#000"/>
<text transform="translate(1449.2 266.7) scale(0.985 1.0)" font-size="37.5" stroke="#fff" stroke-width="0.25">pH</text>
<g fill="#008000" fill-opacity="0.077">
<rect x="1446.4" y="296.6" width="13.7" height="5.4"/>
<rect x="1471.2" y="296.6" width="15.9" height="5.4"/>
<rect x="1498.1" y="296.6" width="13.8" height="5.4"/>
<rect x="1523.1" y="296.6" width="11" height="5.4" fill-opacity="0.148"/>
</g>
<text transform="translate(1543.2 312.9) scale(0.985 1.0)" font-size="37.5" stroke="#fff" stroke-width="0.25">7.00</text>
<g fill="#008000" fill-opacity="0.154">
<rect x="1446.4" y="342.44" width="13.7" height="5.4"/>
<rect x="1471.2" y="342.44" width="15.9" height="5.4"/>
<rect x="1498.1" y="342.44" width="13.8" height="5.4"/>
<rect x="1523.1" y="342.44" width="11" height="5.4" fill-opacity="0.284"/>
</g>
<g transform="translate(1543.2 358.58) scale(0.985 1.0)"><text font-size="37.5" stroke="#fff" stroke-width="0.25">5.31</text><rect class="m" x="53.96" y="-3.4" width="7.6" height="4.2"/><rect class="m" x="64.87" y="-3.4" width="7.21" height="4.2"/></g>
<g fill="#008000" fill-opacity="0.231">
<rect x="1446.4" y="388.28" width="13.7" height="5.4"/>
<rect x="1471.2" y="388.28" width="15.9" height="5.4"/>
<rect x="1498.1" y="388.28" width="13.8" height="5.4"/>
<rect x="1523.1" y="388.28" width="11" height="5.4" fill-opacity="0.408"/>
</g>
<text transform="translate(1543.2 404.26) scale(0.985 1.0)" font-size="37.5" stroke="#fff" stroke-width="0.25">5.00</text>
<g fill="#008000" fill-opacity="0.308">
<rect x="1446.4" y="434.12" width="13.7" height="5.4"/>
<rect x="1471.2" y="434.12" width="15.9" height="5.4"/>
<rect x="1498.1" y="434.12" width="13.8" height="5.4"/>
<rect x="1523.1" y="434.12" width="11" height="5.4" fill-opacity="0.521"/>
</g>
<text transform="translate(1543.2 449.94) scale(0.985 1.0)" font-size="37.5" stroke="#fff" stroke-width="0.25">4.82</text>
<g fill="#008000" fill-opacity="0.385">
<rect x="1446.4" y="479.96" width="13.7" height="5.4"/>
<rect x="1471.2" y="479.96" width="15.9" height="5.4"/>
<rect x="1498.1" y="479.96" width="13.8" height="5.4"/>
<rect x="1523.1" y="479.96" width="11" height="5.4" fill-opacity="0.621"/>
</g>
<text transform="translate(1543.2 495.62) scale(0.985 1.0)" font-size="37.5" stroke="#fff" stroke-width="0.25">4.70</text>
<g fill="#008000" fill-opacity="0.462">
<rect x="1446.4" y="525.8" width="13.7" height="5.4"/>
<rect x="1471.2" y="525.8" width="15.9" height="5.4"/>
<rect x="1498.1" y="525.8" width="13.8" height="5.4"/>
<rect x="1523.1" y="525.8" width="11" height="5.4" fill-opacity="0.710"/>
</g>
<g transform="translate(1543.2 541.3) scale(0.985 1.0)"><text font-size="37.5" stroke="#fff" stroke-width="0.25">4.61</text><rect class="m" x="53.96" y="-3.4" width="7.6" height="4.2"/><rect class="m" x="64.87" y="-3.4" width="7.21" height="4.2"/></g>
<g fill="#008000" fill-opacity="0.538">
<rect x="1446.4" y="571.64" width="13.7" height="5.4"/>
<rect x="1471.2" y="571.64" width="15.9" height="5.4"/>
<rect x="1498.1" y="571.64" width="13.8" height="5.4"/>
<rect x="1523.1" y="571.64" width="11" height="5.4" fill-opacity="0.787"/>
</g>
<text transform="translate(1543.2 586.98) scale(0.985 1.0)" font-size="37.5" stroke="#fff" stroke-width="0.25">4.53</text>
<g fill="#008000" fill-opacity="0.615">
<rect x="1446.4" y="617.48" width="13.7" height="5.4"/>
<rect x="1471.2" y="617.48" width="15.9" height="5.4"/>
<rect x="1498.1" y="617.48" width="13.8" height="5.4"/>
<rect x="1523.1" y="617.48" width="11" height="5.4" fill-opacity="0.852"/>
</g>
<text transform="translate(1543.2 632.66) scale(0.985 1.0)" font-size="37.5" stroke="#fff" stroke-width="0.25">4.46</text>
<g fill="#008000" fill-opacity="0.692">
<rect x="1446.4" y="663.32" width="13.7" height="5.4"/>
<rect x="1471.2" y="663.32" width="15.9" height="5.4"/>
<rect x="1498.1" y="663.32" width="13.8" height="5.4"/>
<rect x="1523.1" y="663.32" width="11" height="5.4" fill-opacity="0.905"/>
</g>
<text transform="translate(1543.2 678.34) scale(0.985 1.0)" font-size="37.5" stroke="#fff" stroke-width="0.25">4.40</text>
<g fill="#008000" fill-opacity="0.769">
<rect x="1446.4" y="709.16" width="13.7" height="5.4"/>
<rect x="1471.2" y="709.16" width="15.9" height="5.4"/>
<rect x="1498.1" y="709.16" width="13.8" height="5.4"/>
<rect x="1523.1" y="709.16" width="11" height="5.4" fill-opacity="0.947"/>
</g>
<text transform="translate(1543.2 724.02) scale(0.985 1.0)" font-size="37.5" stroke="#fff" stroke-width="0.25">4.35</text>
<g fill="#008000" fill-opacity="0.846">
<rect x="1446.4" y="755" width="13.7" height="5.4"/>
<rect x="1471.2" y="755" width="15.9" height="5.4"/>
<rect x="1498.1" y="755" width="13.8" height="5.4"/>
<rect x="1523.1" y="755" width="11" height="5.4" fill-opacity="0.976"/>
</g>
<g transform="translate(1543.2 769.7) scale(0.985 1.0)"><text font-size="37.5" stroke="#fff" stroke-width="0.25">4.31</text><rect class="m" x="53.96" y="-3.4" width="7.6" height="4.2"/><rect class="m" x="64.87" y="-3.4" width="7.21" height="4.2"/></g>
<g fill="#008000" fill-opacity="0.923">
<rect x="1446.4" y="800.84" width="13.7" height="5.4"/>
<rect x="1471.2" y="800.84" width="15.9" height="5.4"/>
<rect x="1498.1" y="800.84" width="13.8" height="5.4"/>
<rect x="1523.1" y="800.84" width="11" height="5.4" fill-opacity="0.994"/>
</g>
<g transform="translate(1543.2 815.38) scale(0.985 1.0)"><text font-size="37.5" stroke="#fff" stroke-width="0.25">3.31</text><rect class="m" x="53.96" y="-3.4" width="7.6" height="4.2"/><rect class="m" x="64.87" y="-3.4" width="7.21" height="4.2"/></g>
<g fill="#008000" fill-opacity="1.000">
<rect x="1446.4" y="846.68" width="13.7" height="5.4"/>
<rect x="1471.2" y="846.68" width="15.9" height="5.4"/>
<rect x="1498.1" y="846.68" width="13.8" height="5.4"/>
<rect x="1523.1" y="846.68" width="11" height="5.4" fill-opacity="1.000"/>
</g>
<g transform="translate(1543.2 861.06) scale(0.985 1.0)"><text font-size="37.5" stroke="#fff" stroke-width="0.25">2.31</text><rect class="m" x="53.96" y="-3.4" width="7.6" height="4.2"/><rect class="m" x="64.87" y="-3.4" width="7.21" height="4.2"/></g>
</g>
</svg></body></html>
